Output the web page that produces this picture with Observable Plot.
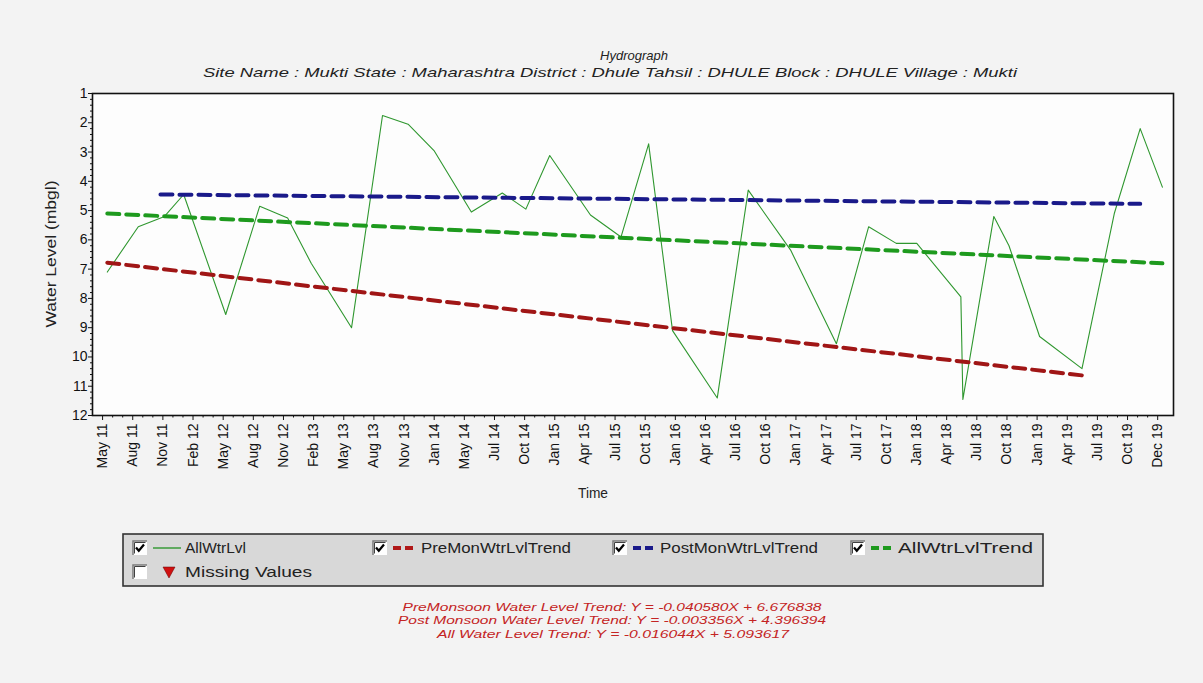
<!DOCTYPE html>
<html><head><meta charset="utf-8">
<script src="https://cdn.jsdelivr.net/npm/d3@7"></script>
<script src="https://cdn.jsdelivr.net/npm/@observablehq/plot@0.6"></script>
<style>
html,body{margin:0;padding:0;background:#f3f3f3;}
#wrap{position:relative;width:1203px;height:683px;overflow:hidden;background:#f3f3f3;font-family:"Liberation Sans",Arial,sans-serif;}
#chart{position:absolute;left:0;top:0;}
#overlay{position:absolute;left:0;top:0;}
</style></head>
<body><div id="wrap"><div id="chart"></div></div>
<script>
// ---- data ----
const obsDates = ["2011-05-15","2011-08-15","2011-11-01","2011-12-28","2012-05-01","2012-08-10","2012-11-01","2013-01-10","2013-05-10","2013-08-10","2013-10-25","2014-01-10","2014-05-01","2014-08-01","2014-10-10","2014-12-20","2015-04-20","2015-07-20","2015-10-10","2015-12-20","2016-05-01","2016-08-01","2016-12-05","2017-04-20","2017-07-25","2017-10-15","2017-12-15","2018-04-25","2018-05-01","2018-08-01","2018-09-15","2018-12-15","2019-04-20","2019-07-25","2019-10-10","2019-12-15"];
const obsLevels = [7.1,5.55,5.2,4.45,8.55,4.85,5.25,6.8,9.0,1.75,2.05,2.95,5.05,4.4,4.95,3.12,5.15,5.9,2.72,9.1,11.4,4.3,6.35,9.55,5.55,6.12,6.12,7.95,11.45,5.2,6.2,9.3,10.4,5.1,2.2,4.2];

const preTrendDates = ["2011-05-15","2019-04-20"];
const preTrendLevels = [6.78,10.63];
const postTrendDates = ["2011-10-20","2019-10-10"];
const postTrendLevels = [4.45,4.77];
const allTrendDates = ["2011-05-15","2019-12-15"];
const allTrendLevels = [5.1,6.8];

const xTickLabels = ["May 11","Aug 11","Nov 11","Feb 12","May 12","Aug 12","Nov 12","Feb 13","May 13","Aug 13","Nov 13","Jan 14","May 14","Jul 14","Oct 14","Jan 15","Apr 15","Jul 15","Oct 15","Jan 16","Apr 16","Jul 16","Oct 16","Jan 17","Apr 17","Jul 17","Oct 17","Jan 18","Apr 18","Jul 18","Oct 18","Jan 19","Apr 19","Jul 19","Oct 19","Dec 19"];
const xTickFirst = "2011-05-01";
const xTickLast = "2019-12-01";
const yTickValues = [1,2,3,4,5,6,7,8,9,10,11,12];

const titleText = "Hydrograph";
const subtitleText = "Site Name : Mukti  State : Maharashtra District : Dhule  Tahsil : DHULE  Block : DHULE Village : Mukti";
const yLabelText = "Water Level (mbgl)";
const xLabelText = "Time";
const legendNames = ["AllWtrLvl","PreMonWtrLvlTrend","PostMonWtrLvlTrend","AllWtrLvlTrend","Missing Values"];
const equationLines = [
  "PreMonsoon Water Level Trend: Y = -0.040580X + 6.676838",
  "Post Monsoon Water Level Trend: Y = -0.003356X + 4.396394",
  "All Water Level Trend: Y = -0.016044X + 5.093617"
];

// ---- build ----
const parse = d3.utcParse("%Y-%m-%d");
const toRows = (ds, vs) => ds.map((d, i) => ({date: parse(d), level: vs[i]}));
const obs = toRows(obsDates, obsLevels);
const pre = toRows(preTrendDates, preTrendLevels);
const post = toRows(postTrendDates, postTrendLevels);
const all = toRows(allTrendDates, allTrendLevels);

const t0 = +parse(xTickFirst), t1 = +parse(xTickLast);
const n = xTickLabels.length;
const xTicks = xTickLabels.map((_, i) => new Date(t0 + i * (t1 - t0) / (n - 1)));
const labelOf = new Map(xTicks.map((d, i) => [+d, xTickLabels[i]]));
const xMinor = [];
for (let i = 0; i < n - 1; i++) for (let k = 1; k < 3; k++) xMinor.push(new Date(+xTicks[i] + k * (xTicks[i + 1] - xTicks[i]) / 3));
const yMinor = d3.range(1, 12.0001, 0.2).filter(v => Math.abs(v - Math.round(v)) > 1e-6);

const fontTick = "Liberation Sans, Arial, sans-serif";
const chart = Plot.plot({
  width: 1203, height: 500,
  marginLeft: 92, marginRight: 30, marginTop: 93, marginBottom: 85,
  style: {background: "transparent", fontFamily: fontTick, fontSize: "14px", color: "#111", overflow: "visible"},
  x: {type: "utc", domain: [parse("2011-04-01"), parse("2020-01-17")], label: null},
  y: {domain: [1, 12], reverse: true, label: null},
  marks: [
    Plot.frame({fill: "#fdfdfd", stroke: null}),
    Plot.line(obs, {x: "date", y: "level", stroke: "#2f972f", strokeWidth: 1.1}),
    Plot.line(all, {x: "date", y: "level", stroke: "#1e9a1e", strokeWidth: 4, strokeDasharray: "12,7"}),
    Plot.line(pre, {x: "date", y: "level", stroke: "#a01616", strokeWidth: 4, strokeDasharray: "12,7"}),
    Plot.line(post, {x: "date", y: "level", stroke: "#1a1a8a", strokeWidth: 4, strokeDasharray: "12,7"}),
    Plot.frame({stroke: "#111", strokeWidth: 1.6}),
    Plot.axisY(yTickValues, {tickSize: 4, tickPadding: 1, fontSize: 14, tickFormat: d => String(d), label: null}),
    Plot.axisY(yMinor, {tickSize: 2, tickFormat: () => "", label: null}),
    Plot.axisX(xTicks, {tickSize: 5, tickPadding: 3, tickRotate: -90, fontSize: 14, tickFormat: d => labelOf.get(+d), label: null}),
    Plot.axisX(xMinor, {tickSize: 2.5, tickFormat: () => "", label: null})
  ]
});
document.getElementById("chart").appendChild(chart);

// ---- overlay: titles, axis titles, legend, equations ----
const ov = d3.select("#wrap").append("svg").attr("id", "overlay").attr("width", 1203).attr("height", 683)
  .style("font-family", "Liberation Sans, Arial, sans-serif");
function txt(g, s, x, y, opts) {
  const t = g.append("text").attr("x", x).attr("y", y).text(s)
    .attr("font-size", opts.size || 13).attr("fill", opts.fill || "#111")
    .attr("text-anchor", opts.anchor || "start");
  if (opts.italic) t.attr("font-style", "italic");
  if (opts.len) t.attr("textLength", opts.len).attr("lengthAdjust", "spacingAndGlyphs");
  if (opts.transform) t.attr("transform", opts.transform);
  return t;
}
txt(ov, titleText, 634, 60, {size: 13.5, italic: true, anchor: "middle", len: 68, fill: "#222"});
txt(ov, subtitleText, 610, 77, {size: 13, italic: true, anchor: "middle", len: 814, fill: "#222"});
txt(ov, yLabelText, 0, 0, {size: 14, anchor: "middle", len: 147, transform: "translate(56,254) rotate(-90)", fill: "#222"});
txt(ov, xLabelText, 593, 498, {size: 14, anchor: "middle", len: 30, fill: "#222"});

// legend box
const lg = ov.append("g").attr("transform", "translate(123,534)");
lg.append("rect").attr("x", 0).attr("y", 0).attr("width", 920).attr("height", 52).attr("fill", "#d8d8d8").attr("stroke", "#333").attr("stroke-width", 1.6);
function checkbox(x, y, checked) {
  const g = lg.append("g").attr("transform", `translate(${x},${y})`);
  g.append("rect").attr("width", 14).attr("height", 14).attr("fill", "#fff");
  g.append("path").attr("d", "M0,14V0H14").attr("fill", "none").attr("stroke", "#7a7a7a").attr("stroke-width", 1.5);
  g.append("path").attr("d", "M1.5,12.5V1.5H12.5").attr("fill", "none").attr("stroke", "#404040").attr("stroke-width", 1);
  if (checked) g.append("path").attr("d", "M3,6.5L5.8,9.8L11,3.5").attr("fill", "none").attr("stroke", "#000").attr("stroke-width", 2.2);
}
const r1 = 7, r2 = 31;
checkbox(10, r1, true);
lg.append("line").attr("x1", 30).attr("x2", 58).attr("y1", r1 + 7).attr("y2", r1 + 7).attr("stroke", "#2f972f").attr("stroke-width", 1.4);
txt(lg, legendNames[0], 62, r1 + 12, {size: 14, len: 61, fill: "#222"});
checkbox(250, r1, true);
lg.append("line").attr("x1", 270).attr("x2", 292).attr("y1", r1 + 7).attr("y2", r1 + 7).attr("stroke", "#b01818").attr("stroke-width", 4).attr("stroke-dasharray", "8,4");
txt(lg, legendNames[1], 298, r1 + 12, {size: 14, len: 150, fill: "#222"});
checkbox(490, r1, true);
lg.append("line").attr("x1", 510).attr("x2", 532).attr("y1", r1 + 7).attr("y2", r1 + 7).attr("stroke", "#1a1a8a").attr("stroke-width", 4).attr("stroke-dasharray", "8,4");
txt(lg, legendNames[2], 537, r1 + 12, {size: 14, len: 158, fill: "#222"});
checkbox(728, r1, true);
lg.append("line").attr("x1", 748).attr("x2", 770).attr("y1", r1 + 7).attr("y2", r1 + 7).attr("stroke", "#1e9a1e").attr("stroke-width", 4).attr("stroke-dasharray", "8,4");
txt(lg, legendNames[3], 775, r1 + 12, {size: 14, len: 135, fill: "#222"});
checkbox(10, r2, false);
lg.append("path").attr("d", `M40,${r2 + 2}L52,${r2 + 2}L46,${r2 + 13}Z`).attr("fill", "#d01010").attr("stroke", "#600").attr("stroke-width", 0.5);
txt(lg, legendNames[4], 62, r2 + 12, {size: 14, len: 127, fill: "#222"});

// equations
txt(ov, equationLines[0], 612, 611, {size: 11.5, italic: true, anchor: "middle", len: 419, fill: "#c42424"});
txt(ov, equationLines[1], 612, 624, {size: 11.5, italic: true, anchor: "middle", len: 428, fill: "#c42424"});
txt(ov, equationLines[2], 613, 638, {size: 11.5, italic: true, anchor: "middle", len: 352, fill: "#c42424"});
</script>
</body></html>
